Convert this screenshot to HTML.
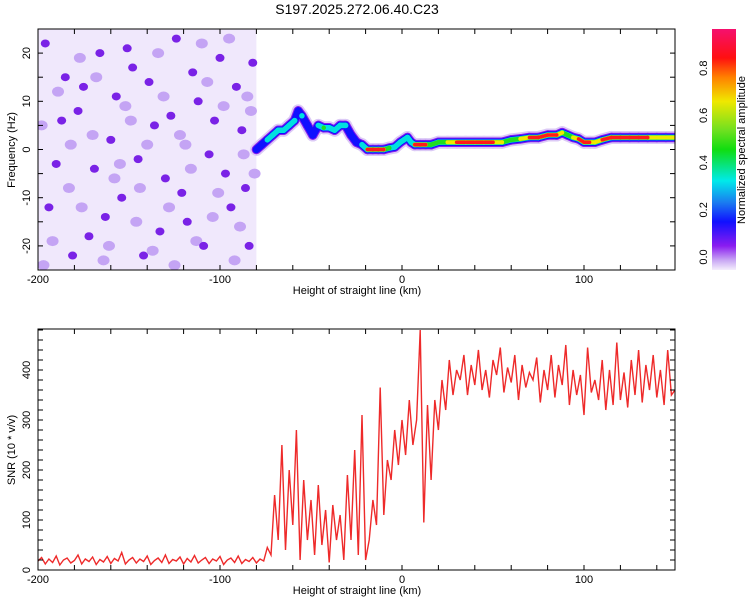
<!DOCTYPE html>
<html><head><meta charset="utf-8"><style>
body{margin:0;background:#fff;}
svg{display:block;font-family:"Liberation Sans",sans-serif;}
</style></head><body>
<svg id="chart" width="750" height="600" viewBox="0 0 750 600">
<defs>
<linearGradient id="cb" x1="0" y1="1" x2="0" y2="0">
<stop offset="0" stop-color="#f4eefc"/><stop offset="0.04" stop-color="#c9a8f4"/>
<stop offset="0.1" stop-color="#8a1cf0"/><stop offset="0.2" stop-color="#1010ff"/>
<stop offset="0.28" stop-color="#1a7cf0"/><stop offset="0.37" stop-color="#00eaea"/>
<stop offset="0.5" stop-color="#10dd10"/><stop offset="0.58" stop-color="#70e020"/>
<stop offset="0.7" stop-color="#f0e800"/><stop offset="0.8" stop-color="#ff8000"/>
<stop offset="0.88" stop-color="#ff1010"/><stop offset="1" stop-color="#f5106e"/>
</linearGradient>
<clipPath id="topclip"><rect x="38" y="29" width="637" height="241"/></clipPath>
<clipPath id="botclip"><rect x="38" y="329" width="637" height="241"/></clipPath>
</defs>
<text x="357" y="14" text-anchor="middle" font-size="14">S197.2025.272.06.40.C23</text>
<g id="topg" clip-path="url(#topclip)"></g>
<g id="botg" clip-path="url(#botclip)"></g>
<g id="axes"></g>
<rect x="712" y="29" width="24" height="241" fill="url(#cb)"/>
<text transform="translate(745,150) rotate(-90)" text-anchor="middle" font-size="11">Normalized spectral amplitude</text>
</svg>
<script>
const xTicks=[-200,-100,0,100];
const fTicks=[-20,-10,0,10,20];
const snrTicks=[0,100,200,300,400];
const cbTicks=[0.0,0.2,0.4,0.6,0.8];
const ridgeX=[-80,-77,-74,-71,-68,-65,-62,-59,-57,-55,-52,-49,-46,-43,-40,-37,-34,-31,-28,-25,-22,-19,-16,-13,-10,-7,-4,-1,1,3,5,7,10,13,16,20,25,30,35,40,45,50,55,60,65,70,75,80,85,88,91,94,97,100,103,106,110,115,120,125,130,135,140,145,150];
const ridgeF=[0,1,2,3,4,4,5,6,8,7,5,3,5,4.5,4.5,4,5,5,3,1.5,1,0,0,0,0,0.3,0.5,1.5,2,2.5,1.5,1,1,1,1,1.5,1.5,1.5,1.5,1.5,1.5,1.5,1.5,2,2.2,2.5,2.5,3,3,3.5,3,2.5,2.2,1.5,1.5,1.5,2,2.5,2.5,2.5,2.5,2.5,2.5,2.5,2.5];
const ridgeA=[0.2,0.25,0.3,0.35,0.3,0.4,0.3,0.35,0.2,0.3,0.25,0.2,0.45,0.5,0.4,0.45,0.35,0.3,0.2,0.25,0.3,0.9,0.95,0.9,0.85,0.6,0.35,0.45,0.4,0.4,0.35,0.9,0.95,0.9,0.5,0.6,0.75,0.95,0.95,0.95,0.95,0.9,0.65,0.6,0.7,0.85,0.8,0.95,0.9,0.75,0.6,0.7,0.9,0.85,0.8,0.7,0.9,0.95,0.95,0.9,0.85,0.8,0.75,0.7,0.7];
const darkX=[-196,-190,-185,-178,-172,-166,-160,-154,-148,-142,-136,-130,-124,-118,-112,-106,-100,-94,-88,-84,-194,-187,-181,-175,-169,-163,-157,-151,-145,-139,-133,-127,-121,-115,-109,-103,-97,-91,-86,-82];
const darkF=[22,-3,15,8,-18,20,2,-10,17,-22,5,-6,23,-15,10,-1,19,-12,4,-20,-12,6,-22,13,-4,-14,11,21,-2,14,-17,7,-9,16,-20,6,-5,13,-8,18];
const lightX=[-198,-192,-183,-177,-170,-164,-158,-152,-146,-140,-134,-128,-122,-116,-110,-104,-98,-92,-87,-83,-197,-189,-182,-176,-168,-161,-155,-149,-144,-137,-131,-125,-119,-113,-107,-101,-95,-89,-85,-81];
const lightF=[5,-19,-8,19,3,-23,-6,9,-15,1,20,-12,3,-4,22,-14,9,-23,-1,8,-24,12,1,-12,15,-20,-3,6,-8,-21,11,-24,1,-19,14,-9,23,-16,11,-5];
const snrStart=-200, snrStep=2;
const snrValues=[18,25,12,22,15,28,10,20,24,14,
19,30,12,22,17,26,11,21,16,27,
13,23,18,35,12,20,25,14,22,17,
28,11,19,24,15,30,13,21,18,26,
12,23,16,29,14,20,25,13,22,18,
27,11,20,24,15,28,13,21,17,25,
14,22,18,45,30,
150,60,250,40,200,90,280,20,180,60,140,30,170,50,120,15,130,60,110,20,190,60,240,30,310,20,
60,140,90,365,110,220,180,280,210,300,
230,340,250,300,480,95,330,180,340,280,380,320,420,350,400,
380,430,350,410,370,440,360,400,345,420,
390,445,355,405,375,430,340,410,365,395,
380,425,335,400,360,430,345,410,370,450,
330,400,350,390,310,445,355,380,340,420,
320,400,330,455,340,395,325,420,350,440,
335,410,360,430,345,400,330,440,350,360];

const NS='http://www.w3.org/2000/svg';
const L=38,R=675;
const sx=v=>L+(v+200)*(R-L)/350;
const sf=f=>149.5-f*4.82;
const ss=v=>570-v*0.5;
function mk(tag,attrs,parent){const e=document.createElementNS(NS,tag);for(const k in attrs)e.setAttribute(k,attrs[k]);parent.appendChild(e);return e;}
const topG=document.getElementById('topg'),botG=document.getElementById('botg'),ax=document.getElementById('axes'),svgEl=document.getElementById('chart');

let bg=mk('rect',{x:sx(-200),y:29,width:sx(-80)-sx(-200),height:241,fill:'#f0e8fc'},topG);


lightX.forEach((x,i)=>{const c=mk('ellipse',{cx:sx(x),cy:sf(lightF[i]),rx:6,ry:5,fill:'#c4a4f4'},topG);

});
darkX.forEach((x,i)=>{const c=mk('ellipse',{cx:sx(x),cy:sf(darkF[i]),rx:4.5,ry:4,fill:'#7a22e6'},topG);

});

const levels=[0.0,0.08,0.15,0.3,0.5,0.65,0.8];
const lcol=['#dccaf6','#8a1cf0','#1010ff','#00e0e0','#20dd20','#f0e800','#ff1a1a'];
const lw=[13,9.5,7.5,5.5,4.5,4,3.5];
levels.forEach((lv,k)=>{
  for(let i=0;i<ridgeX.length-1;i++){
    if(ridgeA[i]>=lv&&ridgeA[i+1]>=lv){
      const s=mk('line',{x1:sx(ridgeX[i]),y1:sf(ridgeF[i]),x2:sx(ridgeX[i+1]),y2:sf(ridgeF[i+1]),stroke:lcol[k],'stroke-width':lw[k],'stroke-linecap':'round'},topG);
      
      
    } else if(ridgeA[i]>=lv){
      const c=mk('circle',{cx:sx(ridgeX[i]),cy:sf(ridgeF[i]),r:lw[k]/2,fill:lcol[k]},topG);
      
      
    }
  }
});

const pts=snrValues.map((v,i)=>sx(snrStart+i*snrStep).toFixed(1)+','+ss(v).toFixed(1)).join(' ');
const pl=mk('polyline',{points:pts,fill:'none',stroke:'#ee2a2a','stroke-width':1.4},botG);



function frame(y0,y1,name){
  const f=mk('rect',{x:L,y:y0,width:R-L,height:y1-y0,fill:'none',stroke:'#000','stroke-width':1},ax);
  
  
  for(let v=-200;v<=150;v+=20){const x=sx(v);
    mk('line',{x1:x,y1:y1,x2:x,y2:y1-5,stroke:'#000'},ax);
    mk('line',{x1:x,y1:y0,x2:x,y2:y0+5,stroke:'#000'},ax);}
  xTicks.forEach(v=>{const t=mk('text',{x:sx(v),y:y1+13,'text-anchor':'middle','font-size':11},ax);t.textContent=v;
    
    });
  const xt=mk('text',{x:357,y:y1+24,'text-anchor':'middle','font-size':11},ax);xt.textContent='Height of straight line (km)';
  
  
}
frame(29,270,'spectrogram-frame');
frame(329,570,'snr-frame');
for(let f=-25;f<=25;f+=5){const y=sf(f);if(y<29||y>270)continue;
  mk('line',{x1:L,y1:y,x2:L+5,y2:y,stroke:'#000'},ax);mk('line',{x1:R,y1:y,x2:R-5,y2:y,stroke:'#000'},ax);}
fTicks.forEach(f=>{const t=mk('text',{transform:`translate(30,${sf(f)}) rotate(-90)`,'text-anchor':'middle','font-size':11},ax);t.textContent=f;
  
  });
const yt=mk('text',{transform:'translate(15,150) rotate(-90)','text-anchor':'middle','font-size':11},ax);yt.textContent='Frequency (Hz)';


for(let v=0;v<=480;v+=20){const y=ss(v);
  mk('line',{x1:L,y1:y,x2:L+5,y2:y,stroke:'#000'},ax);mk('line',{x1:R,y1:y,x2:R-5,y2:y,stroke:'#000'},ax);}
snrTicks.forEach(v=>{const t=mk('text',{transform:`translate(30,${ss(v)}) rotate(-90)`,'text-anchor':'middle','font-size':11},ax);t.textContent=v;
  
  });
const st=mk('text',{transform:'translate(15,450) rotate(-90)','text-anchor':'middle','font-size':11},ax);st.textContent='SNR (10 * v/v)';


cbTicks.forEach(v=>{const t=mk('text',{transform:`translate(707,${257-v*236}) rotate(-90)`,'text-anchor':'middle','font-size':11},svgEl);t.textContent=v.toFixed(1);
  
  });
</script>
</body></html>
